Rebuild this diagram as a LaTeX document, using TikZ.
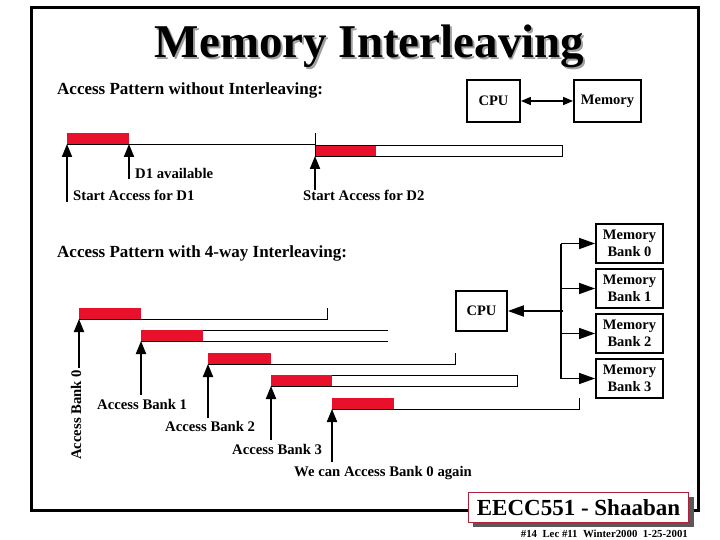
\documentclass[tikz,border=0pt]{standalone}
\usepackage{fontspec}
\setmainfont{Liberation Serif}
\usetikzlibrary{arrows.meta,calc}
\definecolor{barred}{RGB}{232,16,42}
\definecolor{footred}{RGB}{176,32,58}
\begin{document}
\begin{tikzpicture}[x=1pt,y=-1pt,
  titlef/.style={font=\bfseries\fontsize{47}{50}\selectfont, inner sep=0pt, anchor=base},
  headf/.style={font=\bfseries\fontsize{17}{19}\selectfont, inner sep=0pt, anchor=base west},
  lbl/.style={font=\bfseries\fontsize{14.7}{16}\selectfont, inner sep=0pt, anchor=base west},
  box/.style={draw, line width=1.8pt, inner sep=0pt, align=center, font=\bfseries\fontsize{14.5}{17}\selectfont},
  bank/.style={box, minimum width=67pt, minimum height=39pt},
  thinl/.style={line width=0.9pt},
  uparr/.style={line width=2pt, -{Triangle[length=13pt,width=10pt]}},
  busarr/.style={line width=1.3pt, -{Triangle[length=16pt,width=11pt]}},
  dblarr/.style={line width=1.6pt, {Triangle[length=10pt,width=8pt]}-{Triangle[length=10pt,width=8pt]}},
]
\useasboundingbox (0,0) rectangle (720,540);
% frame
\draw[line width=3pt] (31,8) rectangle (698,510);
% title with shadow
\node[titlef] (title) at (369.5,57.5)
  {\rlap{\hspace{2pt}\raisebox{-2pt}{\color{gray!75}Memory Interleaving}}Memory Interleaving};

% ---------- without interleaving ----------
\node[headf] (h1) at (57,95) {Access Pattern without Interleaving:};
\node[box, minimum width=53pt, minimum height=42pt] (cpu1) at (493.5,101) {CPU};
\node[box, minimum width=67pt, minimum height=42pt] (mem1) at (607.5,101) {Memory};
\draw[dblarr] (cpu1) -- (mem1);

\fill[barred] (67,133) rectangle (129,144);
\draw[thinl] (67,144) -- (315,144) (315,133) -- (315,145);
\fill[barred] (315,145) rectangle (376,156);
\draw[thinl] (315,145) rectangle (562,156);
\coordinate (s1) at (67,144);
\coordinate (d1) at (129,144);
\coordinate (s2) at (315,156);
\coordinate (s1b) at (67,202);
\coordinate (d1b) at (129,179);
\coordinate (s2b) at (315,190);
\draw[uparr] (s1b) -- (s1);
\draw[uparr] (d1b) -- (d1);
\draw[uparr] (s2b) -- (s2);
\node[lbl] (lD1) at (135,179) {D1 available};
\node[lbl] (lS1) at (73,201) {Start Access for D1};
\node[lbl] (lS2) at (303,201) {Start Access for D2};

% ---------- 4-way interleaving ----------
\node[headf] (h2) at (57,258) {Access Pattern with 4-way Interleaving:};

% bar 0
\draw[thinl] (79,319) -- (327,319) -- (327,308);
\fill[barred] (79,308) rectangle (141,319);
% bar 1
\draw[thinl] (141,330) -- (388,330) (141,341) -- (388,341);
\fill[barred] (141,330) rectangle (203,341);
% bar 2
\draw[thinl] (208,364) -- (455,364) -- (455,353);
\fill[barred] (208,353) rectangle (271,364);
% bar 3
\draw[thinl] (271,375) rectangle (517,386);
\fill[barred] (271,375) rectangle (332,386);
% bar 4
\draw[thinl] (332,409) -- (579,409) -- (579,398);
\fill[barred] (332,398) rectangle (394,409);

\coordinate (b0) at (79,319);   \coordinate (b0b) at (79,368);
\coordinate (b1) at (141,341);  \coordinate (b1b) at (141,395);
\coordinate (b2) at (208,364);  \coordinate (b2b) at (208,418);
\coordinate (b3) at (271,386);  \coordinate (b3b) at (271,440);
\coordinate (b4) at (332,409);  \coordinate (b4b) at (332,462);
\draw[uparr] (b0b) -- (b0);
\draw[uparr] (b1b) -- (b1);
\draw[uparr] (b2b) -- (b2);
\draw[uparr] (b3b) -- (b3);
\draw[uparr] (b4b) -- (b4);

\node[lbl, rotate=90] (lB0) at (81,460) {Access Bank 0};
\node[lbl] (lB1) at (97,409) {Access Bank 1};
\node[lbl] (lB2) at (165,431) {Access Bank 2};
\node[lbl] (lB3) at (232,454) {Access Bank 3};
\node[lbl] (lB4) at (294,476) {We can Access Bank 0 again};

% CPU and banks
\node[box, minimum width=51pt, minimum height=40pt] (cpu2) at (481.5,311) {CPU};
\node[bank] (bk0) at (629.5,243.5) {Memory\\Bank 0};
\node[bank] (bk1) at (629.5,288.5) {Memory\\Bank 1};
\node[bank] (bk2) at (629.5,333.5) {Memory\\Bank 2};
\node[bank] (bk3) at (629.5,378.5) {Memory\\Bank 3};
\path (bk0.west) ++(-34,0) coordinate (j0);
\path (bk1.west) ++(-34,0) coordinate (j1);
\path (bk2.west) ++(-34,0) coordinate (j2);
\path (bk3.west) ++(-34,0) coordinate (j3);
\path (cpu2.east) ++(55,0) coordinate (jc);
\draw[line width=1.3pt] (j0) -- (j3);
\draw[busarr] (j0) -- (bk0.west);
\draw[busarr] (j1) -- (bk1.west);
\draw[busarr] (j2) -- (bk2.west);
\draw[busarr] (j3) -- (bk3.west);
\draw[line width=2pt, -{Triangle[length=16pt,width=11pt]}] (jc) -- (cpu2.east);

% footer
\fill[gray!70!black] (473,497) rectangle (694,527);
\node[draw=footred, line width=1.6pt, fill=white, minimum width=220pt, minimum height=30pt, inner sep=0pt,
      font=\bfseries\fontsize{23}{25}\selectfont] (foot) at (578.5,507.5) {EECC551 - Shaaban};
\node[font=\bfseries\fontsize{10.8}{12}\selectfont, inner sep=0pt, anchor=base east] (foot2) at (688,537)
  {\#14\ \ Lec \#11\ \ Winter2000\ \ 1-25-2001};
\end{tikzpicture}
\end{document}
